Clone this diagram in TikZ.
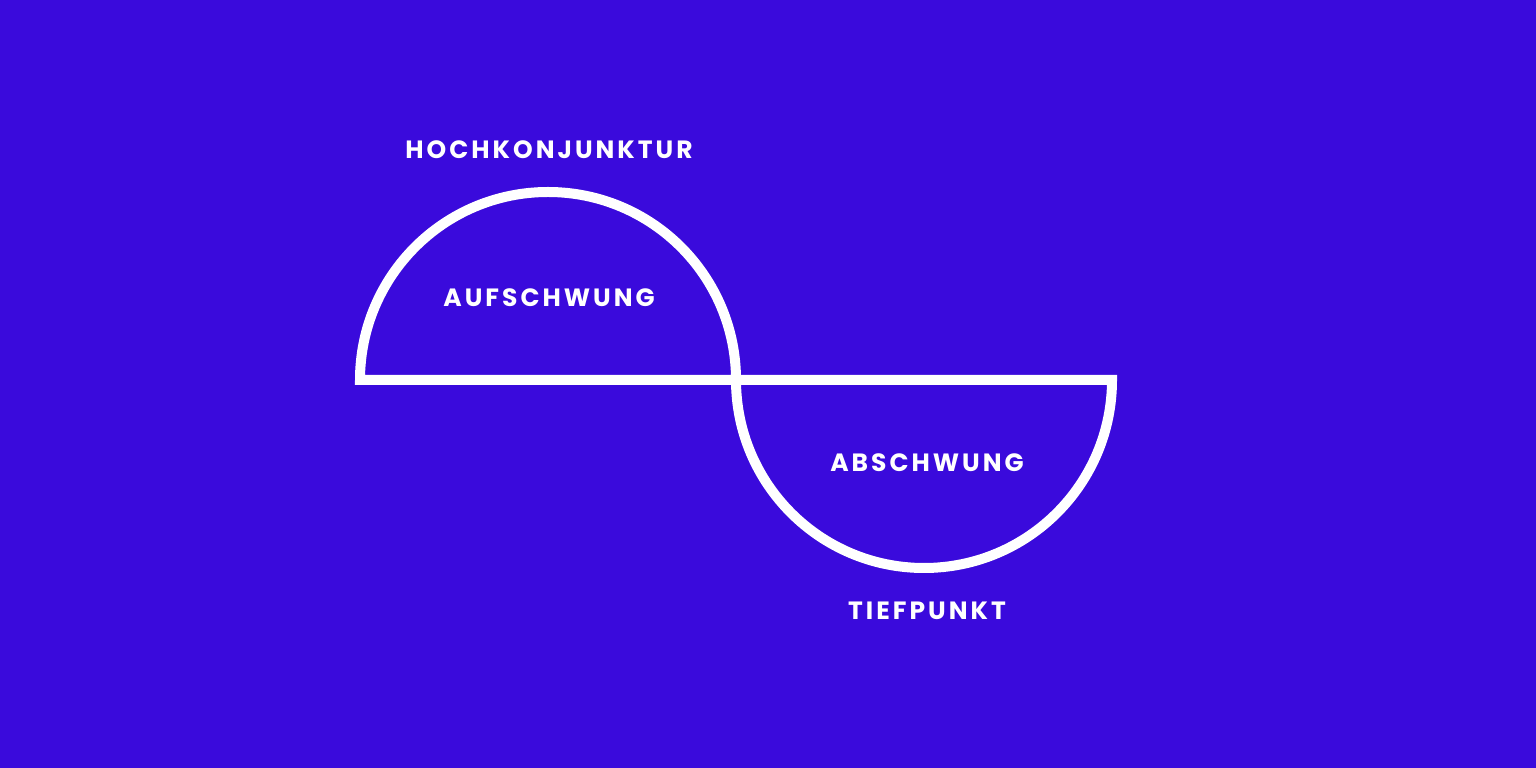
\documentclass[tikz,border=0pt]{standalone}
\usepackage{fontspec}
\setmainfont{Poppins}[UprightFont=* Bold, BoldFont=* Bold]
\definecolor{bg}{HTML}{3A0ADC}
\tikzset{lbl/.style={text=white,font=\fontsize{25}{25}\selectfont\addfontfeature{LetterSpace=12}}}
\begin{document}
\begin{tikzpicture}[x=1pt,y=1pt]
\fill[bg] (0,0) rectangle (1536,768);
\useasboundingbox (0,0) rectangle (1536,768);
\coordinate (L) at (360,388);
\draw[white,line width=10pt,line join=miter] (L) arc[start angle=180,end angle=0,radius=188] arc[start angle=180,end angle=360,radius=188] -- cycle;
\node[lbl] (hk) at (549,618) {HOCHKONJUNKTUR};
\node[lbl] (au) at (549,470) {AUFSCHWUNG};
\node[lbl] (ab) at (927,305) {ABSCHWUNG};
\node[lbl] (tp) at (927,157) {TIEFPUNKT};
\end{tikzpicture}
\end{document}
